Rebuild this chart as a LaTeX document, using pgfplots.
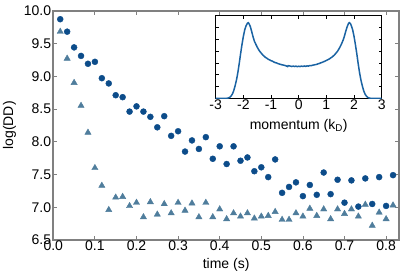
\documentclass[border=0pt]{standalone}
\usepackage{fontspec}
\setmainfont{Liberation Sans}
\usepackage{pgfplots}
\pgfplotsset{compat=1.18}
\definecolor{circ}{HTML}{0C4C8A}
\definecolor{tri}{HTML}{4F7D9C}
\definecolor{inl}{HTML}{1A63A3}
\definecolor{frame}{HTML}{808080}
\begin{document}
\begin{tikzpicture}
\path[use as bounding box] (-53.3pt,-37pt) rectangle (361.7pt,240pt);
\begin{axis}[
  width=345.7pt, height=229.3pt, scale only axis,
  xmin=0, xmax=0.831, ymin=6.5, ymax=10,
  xtick={0,0.1,0.2,0.3,0.4,0.5,0.6,0.7,0.8},
  xticklabels={0.0,0.1,0.2,0.3,0.4,0.5,0.6,0.7,0.8},
  ytick={6.5,7,7.5,8,8.5,9,9.5,10},
  yticklabels={6.5,7.0,7.5,8.0,8.5,9.0,9.5,10.0},
  axis line style={frame, line width=1.6pt},
  tick style={frame, line width=0.8pt},
  tick align=inside, major tick length=4pt,
  tick label style={font=\fontsize{14}{16}\selectfont},
  yticklabel style={inner sep=2pt},
  xticklabel style={inner sep=1pt},
  label style={font=\fontsize{14}{16}\selectfont},
  xlabel={time (s)}, ylabel={log(DD)},
  xlabel style={at={(axis description cs:0.5,0)}, yshift=-25pt, anchor=center},
  ylabel style={at={(axis description cs:-0.127,0.5)}, anchor=center},
]
\addplot[only marks, mark=*, mark size=3pt, draw=circ, fill=circ] coordinates {
(0.01667,9.87) (0.03333,9.68) (0.05,9.44) (0.06667,9.31) (0.08333,9.19)
(0.1,9.22) (0.11667,8.97) (0.13333,8.89) (0.15,8.71) (0.16667,8.68)
(0.18333,8.46) (0.2,8.54) (0.21667,8.46) (0.23333,8.38) (0.25,8.22)
(0.26667,8.39) (0.28333,8.09) (0.3,8.16) (0.31667,7.85) (0.33333,8.02)
(0.35,7.89) (0.36667,8.07) (0.38333,7.74) (0.4,7.93) (0.41667,7.66)
(0.43333,7.93) (0.45,7.71) (0.46667,7.76) (0.48333,7.55) (0.5,7.61)
(0.51667,7.46) (0.53333,7.73) (0.55,7.22) (0.56667,7.31) (0.58333,7.38)
(0.6,7.17) (0.61667,7.34) (0.63333,7.19) (0.65,7.53) (0.66667,7.20)
(0.68333,7.42) (0.7,7.07) (0.71667,7.41) (0.73333,7.01) (0.75,7.44)
(0.76667,7.05) (0.78333,7.46) (0.8,7.02) (0.81667,7.49)
};
\addplot[only marks, mark=triangle*, mark size=3.6pt, draw=tri, fill=tri] coordinates {
(0.01667,9.68) (0.03333,9.27) (0.05,8.90) (0.06667,8.55) (0.08333,8.14)
(0.1,7.60) (0.11667,7.33) (0.13333,6.96) (0.15,7.15) (0.16667,7.16)
(0.18333,7.02) (0.2,7.07) (0.21667,6.85) (0.23333,7.08) (0.25,6.89)
(0.26667,7.05) (0.28333,6.91) (0.3,7.07) (0.31667,6.95) (0.33333,7.06)
(0.35,6.85) (0.36667,7.07) (0.38333,6.85) (0.4,6.97) (0.41667,6.82)
(0.43333,6.91) (0.45,6.86) (0.46667,6.91) (0.48333,6.83) (0.5,6.86)
(0.51667,6.87) (0.53333,6.93) (0.55,6.81) (0.56667,6.81) (0.58333,6.91)
(0.6,6.86) (0.61667,6.98) (0.63333,6.87) (0.65,6.97) (0.66667,6.82)
(0.68333,6.97) (0.7,6.90) (0.71667,6.97) (0.73333,6.86) (0.75,7.04)
(0.76667,6.72) (0.78333,6.92) (0.8,6.82) (0.81667,7.03)
};
\end{axis}
\begin{axis}[
  at={(162.4pt,141.7pt)}, anchor=south west,
  width=166pt, height=82.6pt, scale only axis,
  axis background/.style={fill=white},
  xmin=-3, xmax=3, ymin=0, ymax=1,
  xtick={-3,-2,-1,0,1,2,3},
  xticklabels={-3,-2,-1,0,1,2,3},
  ytick={0.142857,0.285714,0.428571,0.571429,0.714286,0.857143},
  yticklabels={},
  axis line style={black, line width=0.8pt},
  tick style={black, line width=0.5pt},
  tick align=inside, major tick length=3pt,
  tick label style={font=\fontsize{14}{16}\selectfont},
  xticklabel style={inner sep=1pt},
  xlabel={momentum (k\textsubscript{D})},
  label style={font=\fontsize{14}{16}\selectfont},
  xlabel style={at={(axis description cs:0.5,0)}, yshift=-27.5pt, anchor=center},
]
\addplot[inl, line width=1.5pt] coordinates {
(-3,0) (-2.6,0) (-2.55,0.003) (-2.5,0.01) (-2.45,0.025) (-2.4,0.05) (-2.35,0.09)
(-2.3,0.15) (-2.25,0.22) (-2.2,0.31) (-2.15,0.42) (-2.1,0.54) (-2.05,0.65)
(-2.0,0.75) (-1.95,0.83) (-1.9,0.88) (-1.85,0.91) (-1.82,0.915) (-1.8,0.905) (-1.75,0.87)
(-1.7,0.81) (-1.65,0.745) (-1.6,0.69) (-1.55,0.655) (-1.5,0.62) (-1.45,0.59)
(-1.4,0.565) (-1.35,0.545) (-1.3,0.525) (-1.25,0.51) (-1.2,0.495) (-1.15,0.485)
(-1.1,0.472) (-1.05,0.465) (-1.0,0.455) (-0.95,0.45) (-0.9,0.44) (-0.85,0.432)
(-0.8,0.428) (-0.75,0.42) (-0.7,0.415) (-0.65,0.41) (-0.6,0.405) (-0.55,0.402)
(-0.5,0.398) (-0.45,0.392) (-0.4,0.384) (-0.38,0.395) (-0.3,0.39) (-0.25,0.385) (-0.2,0.39)
(-0.15,0.385) (-0.1,0.39) (-0.05,0.383) (0,0.388) (0.05,0.384) (0.1,0.39)
(0.15,0.386) (0.2,0.391) (0.25,0.387) (0.3,0.392) (0.35,0.39) (0.4,0.396)
(0.45,0.395) (0.5,0.40) (0.55,0.404) (0.6,0.408) (0.65,0.41) (0.7,0.418)
(0.75,0.422) (0.8,0.43) (0.85,0.435) (0.9,0.443) (0.95,0.45) (1.0,0.458)
(1.05,0.467) (1.1,0.475) (1.15,0.487) (1.2,0.498) (1.25,0.512) (1.3,0.528)
(1.35,0.548) (1.4,0.568) (1.45,0.595) (1.5,0.625) (1.55,0.66) (1.6,0.70)
(1.65,0.75) (1.7,0.81) (1.75,0.865) (1.8,0.905) (1.83,0.915) (1.87,0.905) (1.9,0.88)
(1.95,0.83) (2.0,0.75) (2.05,0.65) (2.1,0.54) (2.15,0.42) (2.2,0.31)
(2.25,0.22) (2.3,0.15) (2.35,0.09) (2.4,0.05) (2.45,0.025) (2.5,0.01)
(2.55,0.003) (2.6,0) (3,0)
};
\end{axis}
\end{tikzpicture}
\end{document}
